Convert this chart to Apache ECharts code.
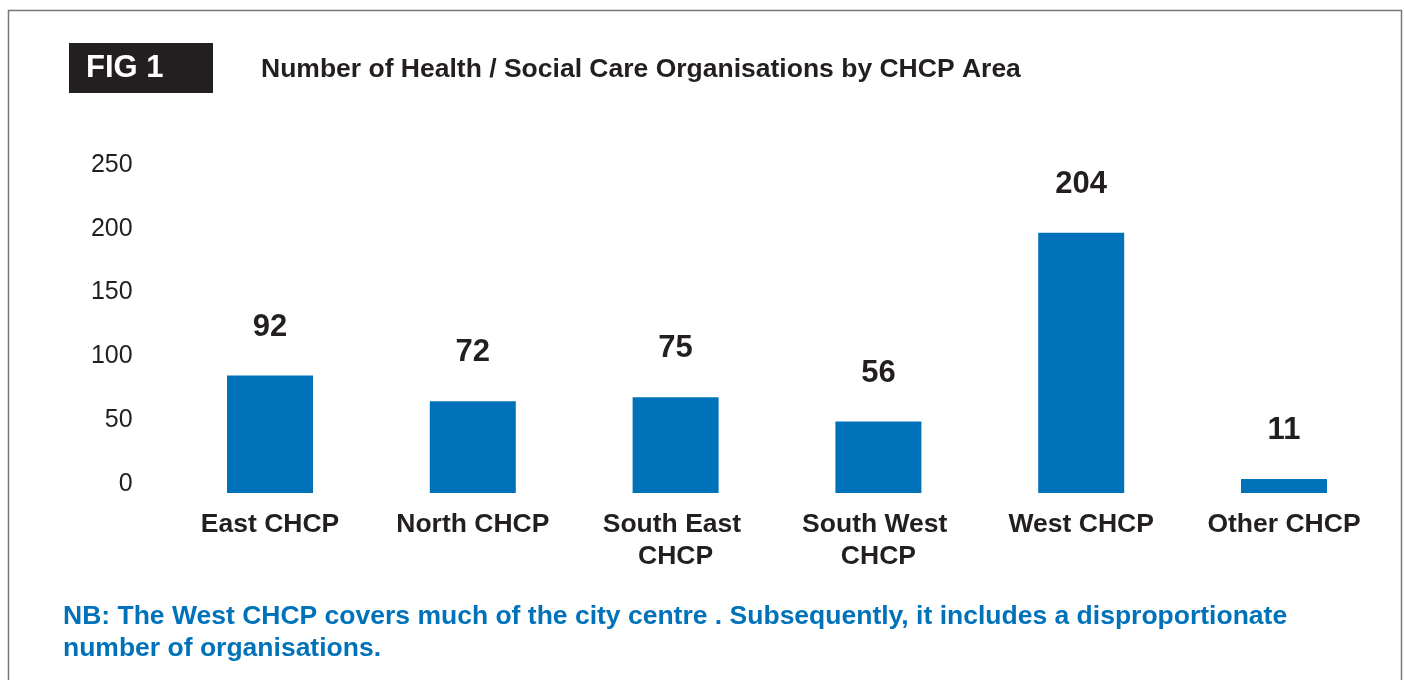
<!DOCTYPE html>
<html>
<head>
<meta charset="utf-8">
<script src="https://cdn.jsdelivr.net/npm/echarts@6/dist/echarts.min.js"></script>
<style>
  html, body { margin: 0; padding: 0; background: #fff; }
  #chart { width: 1404px; height: 680px; }
</style>
</head>
<body>
<div id="chart"></div>
<script>
// data
var areas = ['East CHCP', 'North CHCP', 'South East CHCP', 'South West CHCP', 'West CHCP', 'Other CHCP'];
var orgCounts = [92, 72, 75, 56, 204, 11];
var yTicks = [0, 50, 100, 150, 200, 250];
var figLabel = 'FIG 1';
var chartTitle = 'Number of Health / Social Care Organisations by CHCP Area';
var noteLines = [
  'NB: The West CHCP covers much of the city centre . Subsequently, it includes a disproportionate',
  'number of organisations.'
];

var FONT = '"Liberation Sans", Arial, Helvetica, sans-serif';
var INK = '#231f20';
var BLUE = '#0072b9';

var myChart = echarts.init(document.getElementById('chart'));
var option = {
  animation: false,
  textStyle: { fontFamily: FONT },
  grid: { left: 168.6, right: 18.6, top: 174, bottom: 187, outerBoundsMode: 'none' },
  xAxis: {
    type: 'category',
    data: areas,
    axisLine: { show: false },
    axisTick: { show: false },
    splitLine: { show: false },
    axisLabel: {
      interval: 0,
      color: INK,
      fontFamily: FONT,
      fontWeight: 'bold',
      fontSize: 26.5,
      lineHeight: 32,
      margin: 16,
      width: 175,
      overflow: 'break'
    }
  },
  yAxis: {
    type: 'value',
    min: yTicks[0],
    max: yTicks[yTicks.length - 1],
    interval: yTicks[1] - yTicks[0],
    axisLine: { show: false },
    axisTick: { show: false },
    splitLine: { show: false },
    axisLabel: {
      color: INK,
      fontFamily: FONT,
      fontSize: 25,
      margin: 36,
      lineHeight: 18,
      verticalAlign: 'bottom'   // labels sit a little above their ticks in the original
    }
  },
  series: [{
    type: 'bar',
    data: orgCounts,
    barWidth: 86,
    itemStyle: { color: BLUE },
    label: {
      show: true,
      position: 'top',
      distance: 33,
      color: INK,
      fontFamily: FONT,
      fontWeight: 'bold',
      fontSize: 31
    }
  }],
  graphic: [
    { // outer frame
      type: 'rect',
      shape: { x: 8.5, y: 10.5, width: 1393, height: 720 },
      style: { fill: 'none', stroke: '#777', lineWidth: 1.5 },
      silent: true
    },
    {
      type: 'rect',
      shape: { x: 69, y: 43, width: 144, height: 50 },
      style: { fill: INK }
    },
    {
      type: 'text',
      x: 86, y: 68,
      style: {
        text: figLabel, fill: '#fff', font: 'bold 31px ' + FONT,
        verticalAlign: 'middle'
      }
    },
    {
      type: 'text',
      x: 261, y: 70,
      style: {
        text: chartTitle, fill: INK, font: 'bold 26.5px ' + FONT,
        verticalAlign: 'middle'
      }
    },
    {
      type: 'text',
      x: 63, y: 600.5,
      style: {
        text: noteLines.join('\n'), fill: BLUE, font: 'bold 26.5px ' + FONT,
        lineHeight: 32, verticalAlign: 'top'
      }
    }
  ]
};
myChart.setOption(option);
</script>
</body>
</html>
